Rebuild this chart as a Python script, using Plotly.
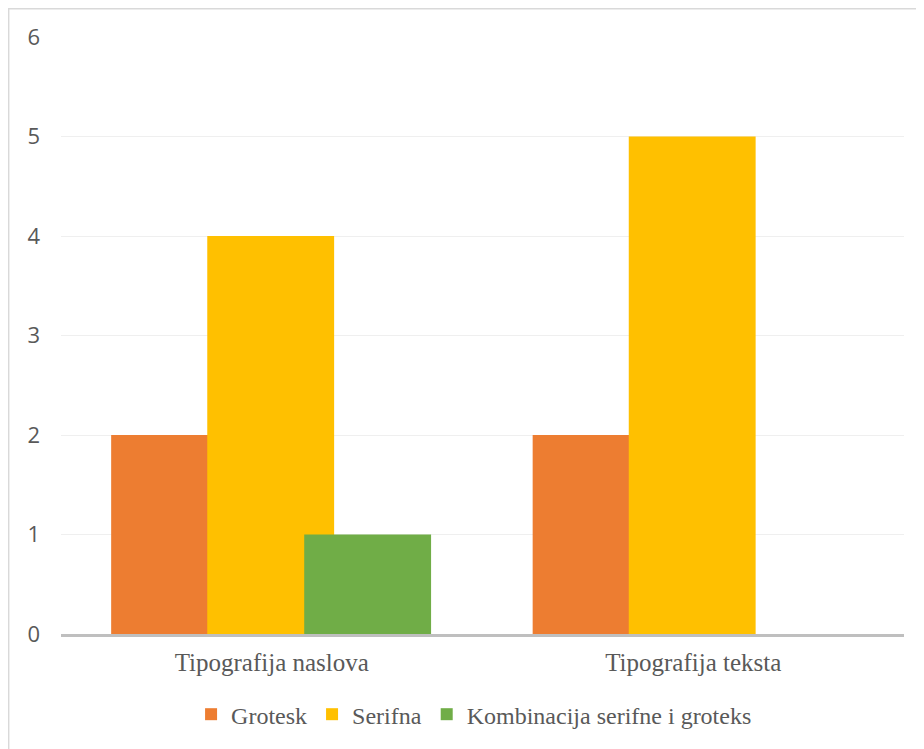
import plotly.graph_objects as go

categories = ["Tipografija naslova", "Tipografija teksta"]
series_names = ["Grotesk", "Serifna", "Kombinacija serifne i groteks"]
grotesk = [2, 2]
serifna = [4, 5]
kombinacija = [1, 0]
colors = ["#ED7D31", "#FFC000", "#70AD47"]

values = [grotesk, serifna, kombinacija]
offsets = [-0.381, -0.153, 0.077]
bar_width = 0.301

fig = go.Figure()
xpos = list(range(len(categories)))
for name, vals, col, off in zip(series_names, values, colors, offsets):
    fig.add_trace(go.Bar(
        x=xpos, y=vals, name=name,
        marker=dict(color=col, line=dict(width=0)),
        width=[bar_width] * len(xpos),
        offset=[off] * len(xpos),
    ))

L, T, PW, PH = 53, 29, 843, 599
W, H = 916, 741

fig.update_layout(
    width=W, height=H,
    barmode="overlay",
    paper_bgcolor="white", plot_bgcolor="white",
    margin=dict(l=L, r=W - L - PW, t=T, b=H - T - PH),
    showlegend=True,
    legend=dict(
        orientation="h", x=0.49, xanchor="center", y=-0.135, yanchor="middle",
        font=dict(family="Liberation Serif", size=24, color="#595959"),
        traceorder="normal", itemwidth=30,
    ),
    xaxis=dict(
        range=[-0.5, 1.5], tickvals=xpos, ticktext=categories,
        showgrid=False, showline=True, linecolor="#BFBFBF", linewidth=2.5,
        ticks="", zeroline=False,
        tickfont=dict(family="Liberation Serif", size=25, color="#595959"),
        ticklabelstandoff=4,
    ),
    yaxis=dict(
        range=[0, 6], dtick=1, showgrid=True, gridcolor="#EFEFEF", gridwidth=1,
        zeroline=False, showline=False, ticks="",
        tickfont=dict(family="Open Sans", size=22, color="#595959"),
        ticklabelstandoff=20,
    ),
    shapes=[dict(
        type="rect", xref="paper", yref="paper",
        x0=-L / PW + 0.0008, x1=1.2, y0=-0.5, y1=1 + (T - 0.7) / PH,
        line=dict(color="#D9D9D9", width=1.5), fillcolor="rgba(0,0,0,0)",
        layer="below",
    )],
)

fig.write_html("out.html")
